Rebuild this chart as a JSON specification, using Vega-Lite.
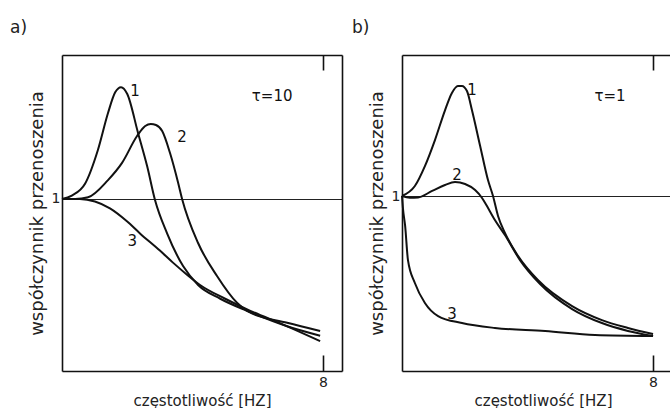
{
  "$schema": "https://vega.github.io/schema/vega-lite/v6.json",
  "autosize": {"type": "pad"},
  "padding": {"left": 10, "top": 19, "right": 0, "bottom": 0},
  "background": "white",
  "spacing": 10,
  "config": {
    "view": {"stroke": null},
    "font": "DejaVu Sans",
    "axis": {"domainColor": "#111", "domainWidth": 1.6, "tickColor": "#111", "tickWidth": 1.6, "labelColor": "#222", "titleColor": "#222", "labelFont": "DejaVu Sans", "titleFont": "DejaVu Sans", "titleFontWeight": "normal", "grid": false},
    "title": {"font": "DejaVu Sans", "fontWeight": "normal", "fontSize": 17, "color": "#222"}
  },
  "datasets": {
    "curvesA": [
      {"c": "1", "x": 0, "y": 1.0}, {"c": "1", "x": 0.3, "y": 1.02}, {"c": "1", "x": 0.71, "y": 1.09}, {"c": "1", "x": 1.1, "y": 1.285}, {"c": "1", "x": 1.41, "y": 1.5}, {"c": "1", "x": 1.63, "y": 1.62}, {"c": "1", "x": 1.81, "y": 1.65}, {"c": "1", "x": 2.0, "y": 1.61}, {"c": "1", "x": 2.33, "y": 1.384}, {"c": "1", "x": 2.61, "y": 1.19}, {"c": "1", "x": 2.85, "y": 0.994}, {"c": "1", "x": 3.22, "y": 0.8}, {"c": "1", "x": 3.71, "y": 0.61}, {"c": "1", "x": 4.17, "y": 0.5}, {"c": "1", "x": 4.85, "y": 0.42}, {"c": "1", "x": 5.67, "y": 0.35}, {"c": "1", "x": 6.9, "y": 0.26}, {"c": "1", "x": 7.91, "y": 0.205},
      {"c": "2", "x": 0, "y": 1.0}, {"c": "2", "x": 0.4, "y": 1.0}, {"c": "2", "x": 0.8, "y": 1.01}, {"c": "2", "x": 1.41, "y": 1.11}, {"c": "2", "x": 1.84, "y": 1.21}, {"c": "2", "x": 2.3, "y": 1.366}, {"c": "2", "x": 2.55, "y": 1.424}, {"c": "2", "x": 2.72, "y": 1.436}, {"c": "2", "x": 2.88, "y": 1.43}, {"c": "2", "x": 3.07, "y": 1.395}, {"c": "2", "x": 3.31, "y": 1.267}, {"c": "2", "x": 3.56, "y": 1.093}, {"c": "2", "x": 3.68, "y": 1.0}, {"c": "2", "x": 4.17, "y": 0.744}, {"c": "2", "x": 4.75, "y": 0.552}, {"c": "2", "x": 5.37, "y": 0.395}, {"c": "2", "x": 5.67, "y": 0.349}, {"c": "2", "x": 6.9, "y": 0.28}, {"c": "2", "x": 7.91, "y": 0.233},
      {"c": "3", "x": 0, "y": 1.0}, {"c": "3", "x": 0.55, "y": 1.0}, {"c": "3", "x": 1.01, "y": 0.985}, {"c": "3", "x": 1.47, "y": 0.945}, {"c": "3", "x": 1.99, "y": 0.87}, {"c": "3", "x": 2.39, "y": 0.8}, {"c": "3", "x": 3.0, "y": 0.7}, {"c": "3", "x": 3.4, "y": 0.63}, {"c": "3", "x": 3.83, "y": 0.56}, {"c": "3", "x": 4.23, "y": 0.5}, {"c": "3", "x": 5.0, "y": 0.42}, {"c": "3", "x": 5.77, "y": 0.35}, {"c": "3", "x": 6.78, "y": 0.27}, {"c": "3", "x": 7.91, "y": 0.174}
    ],
    "curvesB": [
      {"c": "1", "x": 0, "y": 1.0}, {"c": "1", "x": 0.41, "y": 1.057}, {"c": "1", "x": 0.73, "y": 1.171}, {"c": "1", "x": 1.05, "y": 1.32}, {"c": "1", "x": 1.37, "y": 1.49}, {"c": "1", "x": 1.59, "y": 1.589}, {"c": "1", "x": 1.78, "y": 1.629}, {"c": "1", "x": 1.91, "y": 1.629}, {"c": "1", "x": 2.07, "y": 1.6}, {"c": "1", "x": 2.23, "y": 1.49}, {"c": "1", "x": 2.49, "y": 1.286}, {"c": "1", "x": 2.74, "y": 1.091}, {"c": "1", "x": 2.9, "y": 1.0}, {"c": "1", "x": 3.06, "y": 0.886}, {"c": "1", "x": 3.28, "y": 0.789}, {"c": "1", "x": 3.7, "y": 0.657}, {"c": "1", "x": 4.33, "y": 0.52}, {"c": "1", "x": 5.42, "y": 0.371}, {"c": "1", "x": 6.37, "y": 0.291}, {"c": "1", "x": 7.2, "y": 0.246}, {"c": "1", "x": 8.0, "y": 0.211},
      {"c": "2", "x": 0, "y": 1.0}, {"c": "2", "x": 0.25, "y": 0.99}, {"c": "2", "x": 0.51, "y": 0.992}, {"c": "2", "x": 0.96, "y": 1.029}, {"c": "2", "x": 1.37, "y": 1.063}, {"c": "2", "x": 1.69, "y": 1.08}, {"c": "2", "x": 2.01, "y": 1.069}, {"c": "2", "x": 2.33, "y": 1.034}, {"c": "2", "x": 2.55, "y": 0.989}, {"c": "2", "x": 2.65, "y": 0.96}, {"c": "2", "x": 2.96, "y": 0.863}, {"c": "2", "x": 3.28, "y": 0.777}, {"c": "2", "x": 3.76, "y": 0.634}, {"c": "2", "x": 4.4, "y": 0.497}, {"c": "2", "x": 5.42, "y": 0.354}, {"c": "2", "x": 6.37, "y": 0.274}, {"c": "2", "x": 7.2, "y": 0.229}, {"c": "2", "x": 8.0, "y": 0.2},
      {"c": "3", "x": 0, "y": 1.0}, {"c": "3", "x": 0.03, "y": 0.93}, {"c": "3", "x": 0.1, "y": 0.829}, {"c": "3", "x": 0.19, "y": 0.634}, {"c": "3", "x": 0.41, "y": 0.503}, {"c": "3", "x": 0.73, "y": 0.389}, {"c": "3", "x": 1.15, "y": 0.314}, {"c": "3", "x": 1.91, "y": 0.274}, {"c": "3", "x": 2.96, "y": 0.246}, {"c": "3", "x": 4.56, "y": 0.229}, {"c": "3", "x": 6.15, "y": 0.206}, {"c": "3", "x": 8.0, "y": 0.2}
    ],
    "labelsA": [
      {"t": "1", "x": 2.24, "y": 1.628}, {"t": "2", "x": 3.68, "y": 1.36}, {"t": "3", "x": 2.15, "y": 0.756}, {"t": "τ=10", "x": 6.44, "y": 1.6}
    ],
    "labelsB": [
      {"t": "1", "x": 2.23, "y": 1.606}, {"t": "2", "x": 1.75, "y": 1.12}, {"t": "3", "x": 1.59, "y": 0.326}, {"t": "τ=1", "x": 6.63, "y": 1.571}
    ]
  },
  "hconcat": [
    {
      "width": 280,
      "height": 316,
      "title": {"text": "a)", "anchor": "start", "frame": "group", "dx": -52, "offset": 17},
      "resolve": {"axis": {"x": "independent", "y": "independent"}},
      "layer": [
        {
          "data": {"name": "curvesA"},
          "mark": {"type": "line", "interpolate": "monotone", "color": "#111", "strokeWidth": 2},
          "encoding": {
            "x": {"field": "x", "type": "quantitative", "scale": {"domain": [0, 8.58], "nice": false, "zero": false},
                  "axis": {"orient": "bottom", "values": [8], "tickSize": -16, "labelPadding": 20, "labelFontSize": 14, "title": "częstotliwość [HZ]", "titleFontSize": 15, "titleY": 29, "titleBaseline": "middle"}},
            "y": {"field": "y", "type": "quantitative", "scale": {"domain": [0, 1.837], "nice": false, "zero": false},
                  "axis": {"orient": "left", "values": [1], "ticks": false, "tickSize": 0, "labelPadding": 2, "labelFontSize": 14, "grid": true, "gridColor": "#222", "gridWidth": 1, "title": "współczynnik przenoszenia", "titleFontSize": 18, "titleX": -25, "titleBaseline": "middle"}},
            "detail": {"field": "c"}
          }
        },
        {
          "data": {"name": "labelsA"},
          "mark": {"type": "text", "fontSize": 15, "color": "#111"},
          "encoding": {
            "x": {"field": "x", "type": "quantitative", "axis": {"orient": "top", "values": [8], "tickSize": -15, "labels": false, "title": null}},
            "y": {"field": "y", "type": "quantitative", "axis": {"orient": "right", "values": [], "ticks": false, "labels": false, "title": null}},
            "text": {"field": "t"}
          }
        }
      ]
    },
    {
      "width": 268,
      "height": 316,
      "title": {"text": "b)", "anchor": "start", "frame": "group", "dx": -50, "offset": 17},
      "resolve": {"axis": {"x": "independent", "y": "independent"}},
      "layer": [
        {
          "data": {"name": "curvesB"},
          "mark": {"type": "line", "interpolate": "monotone", "color": "#111", "strokeWidth": 2},
          "encoding": {
            "x": {"field": "x", "type": "quantitative", "scale": {"domain": [0, 8.54], "nice": false, "zero": false},
                  "axis": {"orient": "bottom", "values": [8], "tickSize": -16, "labelPadding": 20, "labelFontSize": 14, "title": "częstotliwość [HZ]", "titleFontSize": 15, "titleX": 141, "titleY": 29, "titleBaseline": "middle"}},
            "y": {"field": "y", "type": "quantitative", "scale": {"domain": [0, 1.806], "nice": false, "zero": false},
                  "axis": {"orient": "left", "values": [1], "ticks": false, "tickSize": 0, "labelPadding": 2, "labelFontSize": 14, "grid": true, "gridColor": "#222", "gridWidth": 1, "title": "współczynnik przenoszenia", "titleFontSize": 18, "titleX": -25, "titleBaseline": "middle"}},
            "detail": {"field": "c"}
          }
        },
        {
          "data": {"name": "labelsB"},
          "mark": {"type": "text", "fontSize": 15, "color": "#111"},
          "encoding": {
            "x": {"field": "x", "type": "quantitative", "axis": {"orient": "top", "values": [8], "tickSize": -15, "labels": false, "title": null}},
            "y": {"field": "y", "type": "quantitative", "axis": null},
            "text": {"field": "t"}
          }
        }
      ]
    }
  ]
}
